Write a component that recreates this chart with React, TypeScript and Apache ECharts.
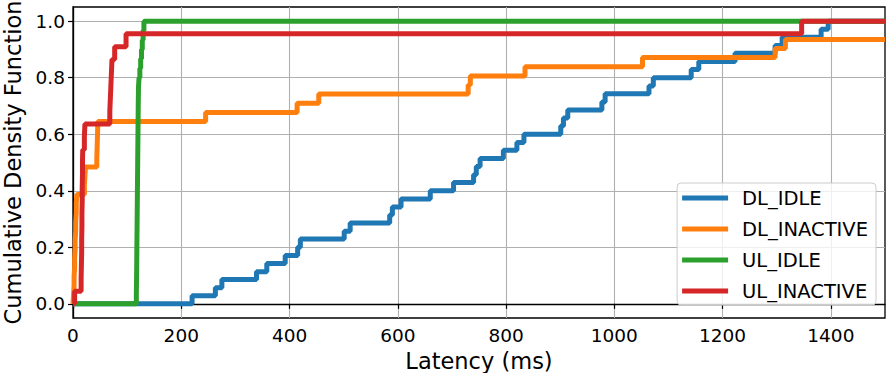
import React, { useEffect, useRef } from "react";
import * as echarts from "echarts";

const seriesNames = ["DL_IDLE", "DL_INACTIVE", "UL_IDLE", "UL_INACTIVE"];
const seriesColors = ["#1f77b4", "#ff7f0e", "#2ca02c", "#d62728"];

// DL_IDLE: latency (ms) and cumulative fraction at each step
const dlIdleLatency = [0, 220, 263, 275, 339, 358, 392, 415, 420, 501, 512, 585, 590, 606, 660, 703, 740, 745, 752, 795, 820, 833, 901, 906, 914, 977, 983, 1064, 1072, 1142, 1156, 1223, 1297, 1310, 1382, 1395, 1500];
const dlIdleCdf = [0, 0.029, 0.057, 0.086, 0.114, 0.143, 0.171, 0.2, 0.229, 0.257, 0.286, 0.314, 0.343, 0.371, 0.4, 0.429, 0.457, 0.486, 0.514, 0.543, 0.571, 0.6, 0.629, 0.657, 0.686, 0.714, 0.743, 0.771, 0.8, 0.829, 0.857, 0.886, 0.914, 0.943, 0.971, 1.0, 1.0];

// DL_INACTIVE
const dlInactiveLatency = [0, 1, 2, 2, 3, 3, 4, 4, 5, 5, 6, 6, 7, 21, 22, 23, 44, 44.5, 45, 45.5, 46, 245, 414, 454, 730, 734, 835, 1052, 1297, 1316, 1500];
const dlInactiveCdf = [0, 0.032, 0.065, 0.097, 0.129, 0.161, 0.194, 0.226, 0.258, 0.29, 0.323, 0.355, 0.387, 0.419, 0.452, 0.484, 0.516, 0.548, 0.581, 0.613, 0.645, 0.677, 0.71, 0.742, 0.774, 0.806, 0.839, 0.871, 0.903, 0.935, 0.935];

// UL_IDLE
const ulIdleLatency = [0, 117, 117.5, 118, 118.5, 119, 119.5, 120, 120.5, 121, 122, 123.5, 125, 126.5, 128, 129.5, 131, 1500];
const ulIdleCdf = [0, 0.033, 0.1, 0.2, 0.3, 0.4, 0.5, 0.6, 0.7, 0.767, 0.8, 0.833, 0.867, 0.9, 0.933, 0.967, 1.0, 1.0];

// UL_INACTIVE
const ulInactiveLatency = [0, 3, 15, 15.5, 16, 16, 16.5, 16.5, 17, 17, 17.5, 17.5, 18, 21, 22, 68, 69, 70, 71, 72, 77, 98, 1346, 1500];
const ulInactiveCdf = [0, 0.045, 0.091, 0.136, 0.182, 0.227, 0.273, 0.318, 0.364, 0.409, 0.455, 0.5, 0.545, 0.591, 0.636, 0.682, 0.727, 0.773, 0.818, 0.864, 0.909, 0.955, 1.0, 1.0];

const xTicks = [0, 200, 400, 600, 800, 1000, 1200, 1400];
const yTicks = [0, 0.2, 0.4, 0.6, 0.8, 1.0];

const xAxisTitle = "Latency (ms)";
const yAxisTitle = "Cumulative Density Function";

const FONT = "DejaVu Sans";

function toPairs(xs: number[], ys: number[]) {
  return xs.map((x, i) => [x, ys[i]]);
}

export default function App() {
  const ref = useRef<HTMLDivElement>(null);

  useEffect(() => {
    if (!ref.current) return;
    const chart = echarts.init(ref.current, null, { renderer: "svg" });
    const allX = [dlIdleLatency, dlInactiveLatency, ulIdleLatency, ulInactiveLatency];
    const allY = [dlIdleCdf, dlInactiveCdf, ulIdleCdf, ulInactiveCdf];

    chart.setOption({
      animation: false,
      textStyle: { fontFamily: FONT },
      grid: {
        left: 73,
        right: 4,
        top: 7,
        bottom: 55,
        outerBoundsMode: "none",
        containLabel: false,
        show: true,
        borderColor: "#000",
        borderWidth: 1.3,
        backgroundColor: "transparent",
      },
      legend: {
        data: seriesNames,
        orient: "vertical",
        right: 13,
        bottom: 68,
        icon: "rect",
        itemWidth: 46,
        itemHeight: 5,
        itemGap: 11,
        padding: [5, 8, 4, 5],
        backgroundColor: "rgba(255,255,255,0.8)",
        borderColor: "#cccccc",
        borderWidth: 1,
        borderRadius: 4,
        textStyle: {
          fontFamily: FONT,
          fontSize: 19.5,
          color: "#000",
          padding: [0, 0, 0, 9],
        },
      },
      xAxis: {
        type: "value",
        min: 0,
        max: 1500,
        name: xAxisTitle,
        nameLocation: "middle",
        nameGap: 28,
        nameTextStyle: { fontFamily: FONT, fontSize: 22.5, color: "#000" },
        axisLine: { show: true, lineStyle: { color: "#000", width: 1.3 } },
        axisTick: {
          show: true,
          length: 5,
          customValues: xTicks,
          lineStyle: { color: "#000", width: 1.2 },
        },
        axisLabel: {
          customValues: xTicks,
          fontFamily: FONT,
          fontSize: 18.5,
          color: "#000",
          margin: 8,
          formatter: (v: number) => String(v),
        },
        splitLine: { show: true, lineStyle: { color: "#b0b0b0", width: 1.1 } },
      },
      yAxis: {
        type: "value",
        min: -0.05,
        max: 1.05,
        name: yAxisTitle,
        nameLocation: "middle",
        nameGap: 46,
        nameRotate: 90,
        nameTextStyle: { fontFamily: FONT, fontSize: 22.5, color: "#000" },
        axisLine: { show: true, lineStyle: { color: "#000", width: 1.3 } },
        axisTick: {
          show: true,
          length: 5,
          customValues: yTicks,
          lineStyle: { color: "#000", width: 1.2 },
        },
        axisLabel: {
          customValues: yTicks,
          fontFamily: FONT,
          fontSize: 18.5,
          color: "#000",
          margin: 8,
          formatter: (v: number) => v.toFixed(1),
        },
        splitLine: { show: true, lineStyle: { color: "#b0b0b0", width: 1.1 } },
      },
      series: seriesNames.map((name, i) => ({
        name,
        type: "line",
        step: "end",
        showSymbol: false,
        symbol: "none",
        color: seriesColors[i],
        lineStyle: { color: seriesColors[i], width: 5 },
        data: toPairs(allX[i], allY[i]),
        z: 2 + i,
      })),
    });

    return () => chart.dispose();
  }, []);

  return (
    <div
      ref={ref}
      style={{ position: "fixed", left: 0, top: 0, width: 889, height: 373, background: "#fff" }}
    />
  );
}
